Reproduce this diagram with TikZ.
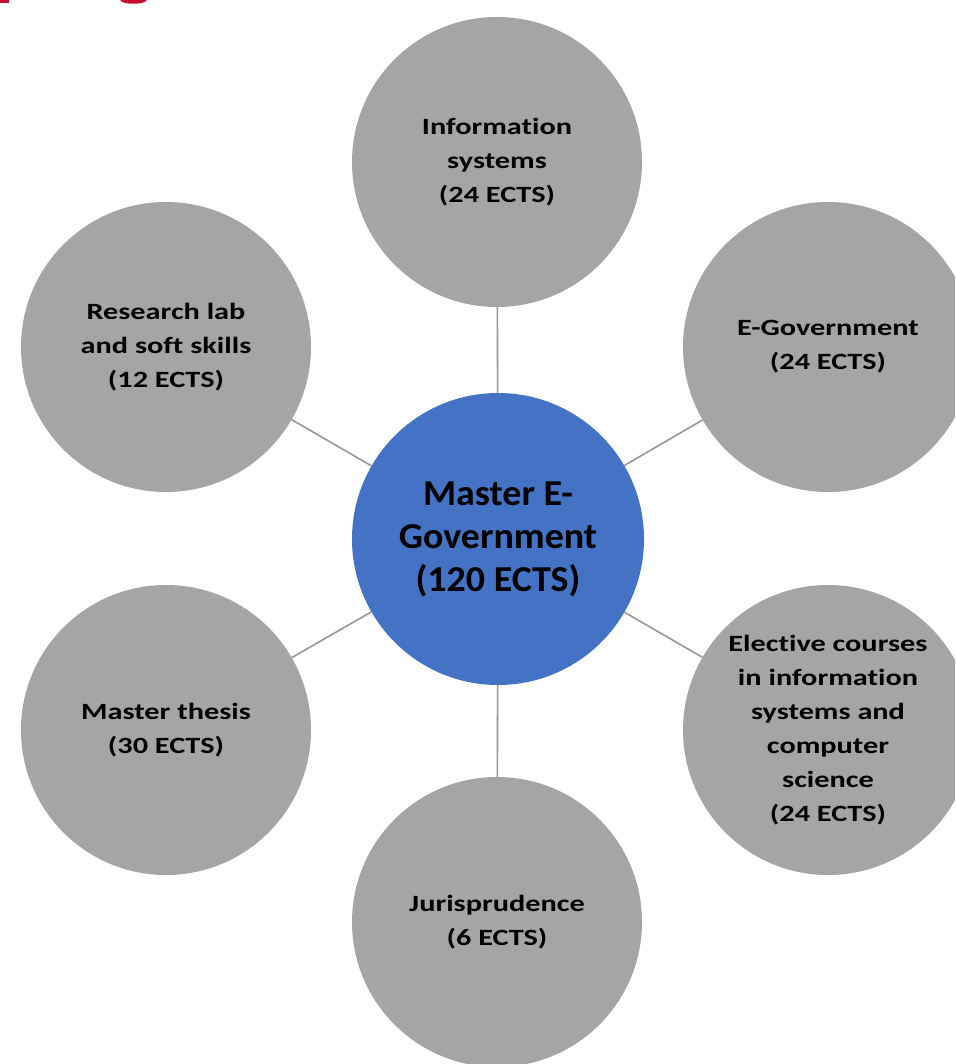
\documentclass[tikz,border=0pt]{standalone}
\usepackage{fontspec}
\setmainfont{Carlito}[Ligatures={NoCommon}]
\newfontfamily\outerfont[FakeStretch=1.3,Ligatures={NoCommon}]{Carlito}
\newfontfamily\hubfont[FakeStretch=1.04,Ligatures={NoCommon}]{Carlito}
\definecolor{outergrey}{HTML}{A5A5A5}
\definecolor{hubblue}{HTML}{4472C4}
\definecolor{linkgrey}{HTML}{979797}
\definecolor{headred}{HTML}{C8102E}
\begin{document}
\begin{tikzpicture}[x=1pt,y=-1pt,
  outer/.style={circle,fill=outergrey,minimum size=290pt,inner sep=0pt,align=center,
    font=\outerfont\bfseries\fontsize{23.3}{34}\selectfont,text=black},
  hub/.style={circle,fill=hubblue,minimum size=292pt,inner sep=0pt,align=center,
    font=\hubfont\bfseries\fontsize{36.5}{43}\selectfont,text=black},
  link/.style={draw=linkgrey,line width=1.6pt}]
\useasboundingbox (0,0) rectangle (955,1064);
\clip (0,0) rectangle (955,1064);
\fill[white] (0,0) rectangle (955,1064);
% cut-off heading fragments
\fill[headred] (0,0) rectangle (9,3);
\fill[headred] (120,0) .. controls (122,5) and (145,5) .. (147,0) -- cycle;
% nodes
\node[hub] (hub) at (498,539) {Master E-\\Government\\(120 ECTS)};
\node[outer] (info) at (497,162) {Information\\systems\\(24 ECTS)};
\node[outer] (egov) at (828,347) {E-Government\\(24 ECTS)};
\node[outer] (elec) at (828,730) {Elective courses\\in information\\systems and\\computer\\science\\(24 ECTS)};
\node[outer] (juris) at (497,922) {Jurisprudence\\(6 ECTS)};
\node[outer] (thesis) at (166,730) {Master thesis\\(30 ECTS)};
\node[outer] (research) at (166,347) {Research lab\\and soft skills\\(12 ECTS)};
% connectors
\foreach \n in {info,egov,elec,juris,thesis,research}{
  \draw[link] (hub) -- (\n);
}
\end{tikzpicture}
\end{document}
